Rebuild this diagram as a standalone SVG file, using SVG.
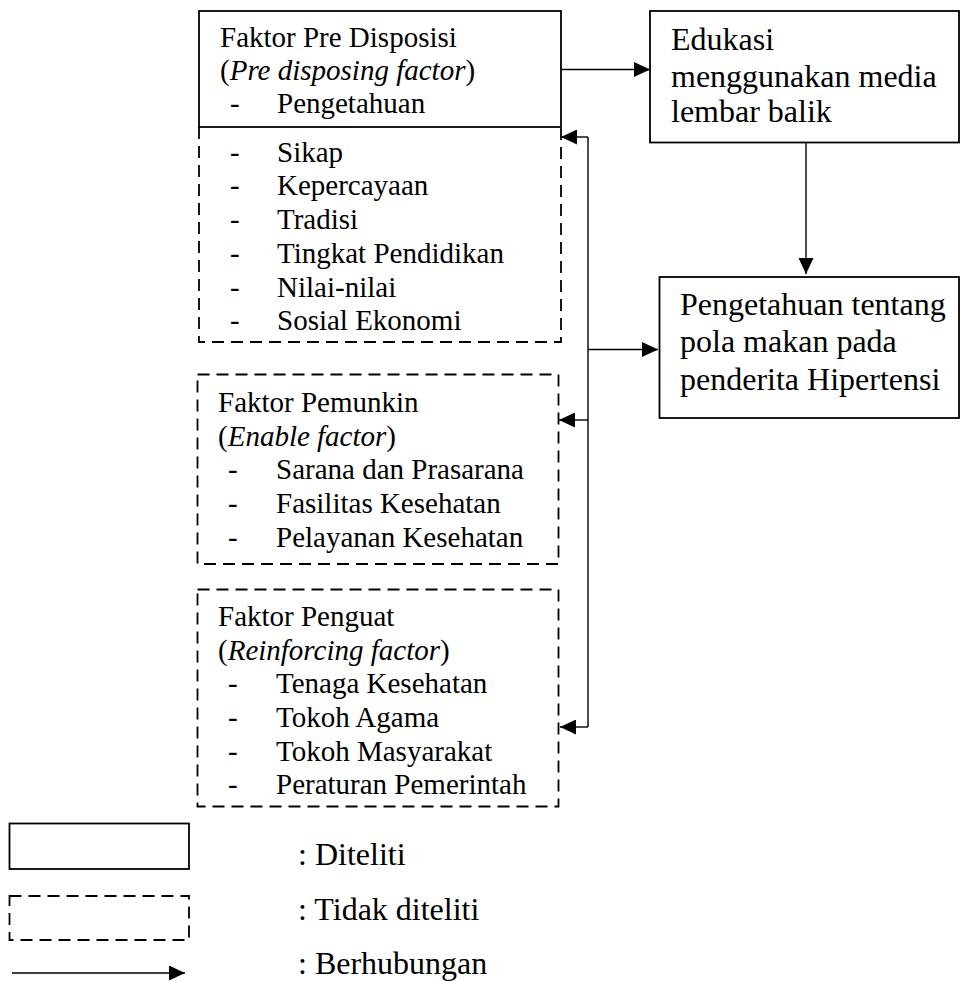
<svg xmlns="http://www.w3.org/2000/svg" width="960" height="982" viewBox="0 0 960 982">
<style>
text{font-family:"Liberation Serif","Times New Roman",serif;fill:#000}
.s{font-size:29px}
.l{font-size:32px}
.g{font-size:32px}
.box{fill:none;stroke:#000;stroke-width:1.8}
.dash{fill:none;stroke:#000;stroke-width:1.8;stroke-dasharray:12 7}
.con{fill:none;stroke:#000;stroke-width:1.4}
</style>
<defs>
<marker id="ah" markerWidth="16" markerHeight="15" refX="16" refY="7.5" orient="auto" markerUnits="userSpaceOnUse">
<path d="M0,0 L16,7.5 L0,15 Z" fill="#000"/>
</marker>
</defs>
<g id="predisposisi">
<rect class="box" x="199" y="11" width="362" height="116"/>
<path class="dash" d="M199,127 V342 H561 V127"/>
<text class="s" x="220" y="47">Faktor Pre Disposisi</text>
<text class="s" x="220" y="80">(<tspan font-style="italic">Pre disposing factor</tspan>)</text>
<text class="s" x="230" y="113">-</text><text class="s" x="277" y="113">Pengetahuan</text>
<text class="s" x="230" y="162">-</text><text class="s" x="277" y="162">Sikap</text>
<text class="s" x="230" y="195">-</text><text class="s" x="277" y="195">Kepercayaan</text>
<text class="s" x="230" y="229">-</text><text class="s" x="277" y="229">Tradisi</text>
<text class="s" x="230" y="263">-</text><text class="s" x="277" y="263">Tingkat Pendidikan</text>
<text class="s" x="230" y="297">-</text><text class="s" x="277" y="297">Nilai-nilai</text>
<text class="s" x="230" y="330">-</text><text class="s" x="277" y="330">Sosial Ekonomi</text>
</g>
<g id="pemungkin">
<rect class="dash" x="197.5" y="374.5" width="361" height="189.5"/>
<text class="s" x="218" y="412">Faktor Pemunkin</text>
<text class="s" x="218" y="446">(<tspan font-style="italic">Enable factor</tspan>)</text>
<text class="s" x="228" y="479">-</text><text class="s" x="276" y="479">Sarana dan Prasarana</text>
<text class="s" x="228" y="513">-</text><text class="s" x="276" y="513">Fasilitas Kesehatan</text>
<text class="s" x="228" y="547">-</text><text class="s" x="276" y="547">Pelayanan Kesehatan</text>
</g>
<g id="penguat">
<rect class="dash" x="197.5" y="589.5" width="361" height="217"/>
<text class="s" x="218" y="626">Faktor Penguat</text>
<text class="s" x="218" y="660">(<tspan font-style="italic">Reinforcing factor</tspan>)</text>
<text class="s" x="228" y="693">-</text><text class="s" x="276" y="693">Tenaga Kesehatan</text>
<text class="s" x="228" y="727">-</text><text class="s" x="276" y="727">Tokoh Agama</text>
<text class="s" x="228" y="761">-</text><text class="s" x="276" y="761">Tokoh Masyarakat</text>
<text class="s" x="228" y="794">-</text><text class="s" x="276" y="794">Peraturan Pemerintah</text>
</g>
<g id="edukasi">
<rect class="box" x="650" y="11" width="309" height="131.5"/>
<text class="l" x="671" y="50">Edukasi</text>
<text class="l" x="671" y="86.5">menggunakan media</text>
<text class="l" x="671" y="122">lembar balik</text>
</g>
<g id="pengetahuan">
<rect class="box" x="659.5" y="277" width="299.5" height="141"/>
<text class="l" x="680" y="315">Pengetahuan tentang</text>
<text class="l" x="680" y="352">pola makan pada</text>
<text class="l" x="680" y="390">penderita Hipertensi</text>
</g>
<g id="connectors">
<line class="con" x1="561" y1="69.5" x2="650" y2="69.5" marker-end="url(#ah)"/>
<line class="con" x1="806" y1="142.5" x2="806" y2="274" marker-end="url(#ah)"/>
<path class="con" d="M588,137 V727"/>
<line class="con" x1="588" y1="137" x2="561" y2="137" marker-end="url(#ah)"/>
<line class="con" x1="588" y1="420" x2="559" y2="420" marker-end="url(#ah)"/>
<line class="con" x1="588" y1="727" x2="560" y2="727" marker-end="url(#ah)"/>
<line class="con" x1="588" y1="349.5" x2="658" y2="349.5" marker-end="url(#ah)"/>
</g>
<g id="legend">
<rect class="box" x="9.5" y="823.5" width="179.5" height="45.5"/>
<rect class="dash" x="9.5" y="896" width="179.5" height="44"/>
<line class="con" x1="12" y1="973" x2="185" y2="973" marker-end="url(#ah)"/>
<text class="g" x="298" y="865">: Diteliti</text>
<text class="g" x="298" y="920">: Tidak diteliti</text>
<text class="g" x="298" y="974">: Berhubungan</text>
</g>
</svg>
